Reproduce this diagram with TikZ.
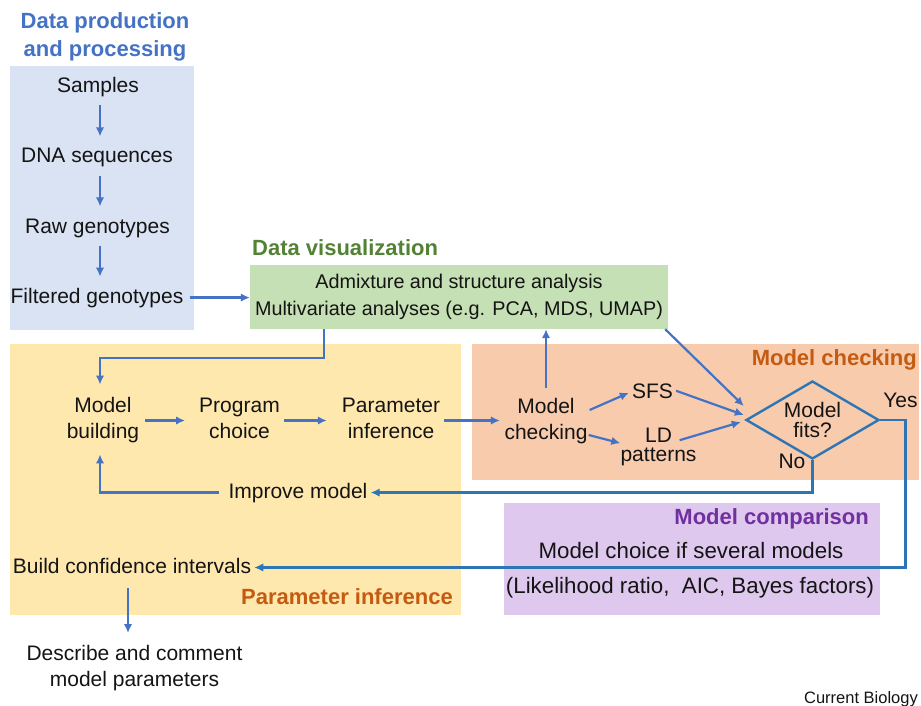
\documentclass[tikz,border=0pt]{standalone}
\usepackage{fontspec}
\setmainfont{Liberation Sans}
\usetikzlibrary{shapes.geometric,arrows.meta,calc}
\definecolor{bluef}{HTML}{DAE3F3}
\definecolor{greenf}{HTML}{C5E0B4}
\definecolor{yellowf}{HTML}{FFE8AE}
\definecolor{orangef}{HTML}{F8CBAD}
\definecolor{purplef}{HTML}{DEC8EE}
\definecolor{titleblue}{HTML}{4472C4}
\definecolor{titlegreen}{HTML}{548235}
\definecolor{orangec}{HTML}{C55A11}
\definecolor{purplec}{HTML}{7030A0}
\definecolor{arrc}{HTML}{4472C4}
\definecolor{darkc}{HTML}{2E75B6}
\definecolor{txtc}{HTML}{141414}
\begin{document}
\begin{tikzpicture}[x=1pt,y=-1pt,
  every node/.style={inner sep=3pt, text=txtc},
  txt/.style={font=\fontsize{21}{26}\selectfont},
  bigtxt/.style={font=\fontsize{22.3}{26}\selectfont},
  ttl/.style={font=\fontsize{22}{28}\selectfont\bfseries},
  box/.style={draw=none, inner sep=0pt},
  arr/.style={draw=arrc, line width=2.2pt, -{Latex[length=9pt,width=8.5pt]}},
  dark/.style={draw=darkc, line width=2.6pt, -{Latex[length=9pt,width=8.5pt]}},
]
\useasboundingbox (0,0) rectangle (921,706);

% background boxes
\node[box, fill=bluef, minimum width=184pt, minimum height=264pt] (bluebox) at (102,198) {};
\node[box, fill=yellowf, minimum width=451pt, minimum height=271pt] (yellowbox) at (235.5,479.5) {};
\node[box, fill=orangef, minimum width=447pt, minimum height=136pt] (orangebox) at (695.5,411.5) {};
\node[box, fill=purplef, minimum width=376pt, minimum height=112pt] (purplebox) at (692,559) {};
\node[box, fill=greenf, minimum width=418pt, minimum height=64pt, align=center,
      font=\fontsize{19.8}{27}\selectfont] (green) at (459,297)
      {Admixture and structure analysis\\Multivariate analyses (e.g. PCA, MDS, UMAP)};

% titles
\node[ttl, text=titleblue, align=center] (tdp) at (105,37.3) {Data production\\and processing};
\node[ttl, text=titlegreen, anchor=base west, inner sep=0pt] (tdv) at (252,255) {Data visualization};
\node[ttl, text=orangec, anchor=base east, inner sep=0pt] (tmc) at (917,365) {Model checking};
\node[ttl, text=orangec, anchor=base east, inner sep=0pt] (tpi) at (453,604) {Parameter inference};
\node[ttl, text=purplec, anchor=base east, inner sep=0pt] (tcmp) at (869,524) {Model comparison};

% text nodes
\node[txt, anchor=base] (samples) at (98,93) {Samples};
\node[txt, anchor=base] (dna) at (97,163) {DNA sequences};
\node[txt, anchor=base] (raw) at (97.5,233) {Raw genotypes};
\node[txt, anchor=base] (filt) at (97,303) {Filtered genotypes};
\node[txt, align=center] (mb) at (103,420.5) {Model\\building};
\node[txt, align=center] (pc) at (239.5,418.5) {Program\\choice};
\node[txt, align=center] (pi) at (391,418.5) {Parameter\\inference};
\node[txt, align=center] (mc) at (546,421) {Model\\checking};
\node[txt, anchor=base] (sfs) at (652.5,398) {SFS};
\node[txt, align=center, font=\fontsize{21}{19}\selectfont] (ld) at (658.5,447.2) {LD\\patterns};
\node[diamond, draw=darkc, line width=2.4pt, minimum width=133pt, minimum height=78pt,
      aspect=1.7, inner sep=0pt, align=center, font=\fontsize{21}{20}\selectfont] (fit) at (812.5,420) {Model\\fits?};
\node[txt, anchor=base] (yes) at (900.5,407) {Yes};
\node[txt, anchor=base] (no) at (792,468) {No};
\node[txt, anchor=base] (imp) at (298,498) {Improve model};
\node[txt, anchor=base] (bci) at (132,573) {Build confidence intervals};
\node[txt, align=center] (desc) at (134.5,668) {Describe and comment\\model parameters};
\node[bigtxt, anchor=base] (mch) at (691,558) {Model choice if several models};
\node[bigtxt, anchor=base] (lik) at (690,593) {(Likelihood ratio,\ \ AIC, Bayes factors)};
\node[anchor=base east, inner sep=0pt, font=\fontsize{16.5}{20}\selectfont] (cb) at (918,703) {Current Biology};

% connectors
\draw[arr] ($(samples.south)+(2,4)$) -- ($(dna.north)+(3,-9)$);
\draw[arr] ($(dna.south)+(3,5)$) -- ($(raw.north)+(2.5,-9)$);
\draw[arr] ($(raw.south)+(2.5,5)$) -- ($(filt.north)+(3,-8)$);
\draw[arr] ($(filt.east)+(3,0)$) -- (filt.east -| green.west);
\draw[arr] ($(green.south west)+(74,0)$) -- ++(0,29) -| ($(mb.north)+(-3,-10)$);
\draw[arr] ($(mb.east)+(3,0)$) -- ($(mb.east -| pc.west)+(-11,0)$);
\draw[arr] ($(pc.east |- mb.east)+(1,0)$) -- ($(pi.west |- mb.east)+(-12,0)$);
\draw[arr] ($(pi.east |- mb.east)+(1,0)$) -- ($(mc.west |- mb.east)+(-1.5,0)$);
\draw[arr] ($(mc.north)+(0,-7)$) -- (mc.north |- green.south);
\draw[arr] ($(mc.east)+(-1,-11)$) -- ($(sfs.west)+(0,2)$);
\draw[arr] ($(mc.east)+(-2,14)$) -- ($(ld.west)+(3,-4)$);
\draw[arr] (sfs.east) -- ($(fit.west)+(-1,-5)$);
\draw[arr] ($(ld.east)+(-20,-7)$) -- ($(fit.west)+(-4,2)$);
\draw[arr] ($(green.south east)+(-3,0)$) -- ($(fit.west)+(-1,-14)$);
\draw[dark] (fit.east) -- ++(25,0) |- ($(bci.east)+(0,2)$);
\draw[dark] (fit.south) |- (imp.east);
\draw[arr] ($(imp.west)+(-6,0)$) -| ($(mb.south)+(-3,8)$);
\draw[arr] ($(bci.south)+(-4,12)$) -- ($(desc.north)+(-6.5,-9)$);
\end{tikzpicture}
\end{document}
